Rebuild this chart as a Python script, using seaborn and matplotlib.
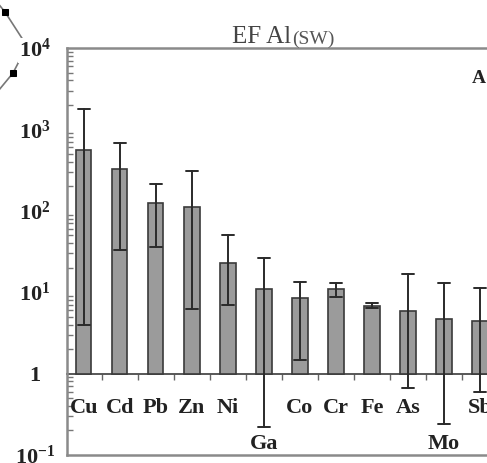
import numpy as np
import pandas as pd
import seaborn as sns
import matplotlib.pyplot as plt

sns.set_style("white")
plt.rcParams['font.family'] = ['Liberation Serif', 'DejaVu Serif']
plt.rcParams['mathtext.fontset'] = 'custom'
plt.rcParams['mathtext.rm'] = 'Liberation Serif'
plt.rcParams['mathtext.bf'] = 'Liberation Serif:bold'

# ------------------------ data ------------------------
elements = ["Cu", "Cd", "Pb", "Zn", "Ni", "Ga", "Co", "Cr", "Fe", "As", "Mo", "Sb"]
ef_value = [560, 330, 126, 110, 23, 11, 8.6, 11, 6.8, 5.9, 4.7, 4.4]
ef_low = [3.9, 33, 36, 6.3, 7.0, 0.22, 1.45, 8.8, 6.4, 0.67, 0.24, 0.6]
ef_high = [1800, 690, 215, 312, 51, 26, 13.5, 12.8, 7.4, 16.5, 13, 11.4]
low_labels = ["Ga", "Mo"]

# fragment of the neighbouring panel (cropped at the left edge)
frag_x = [-8, 5, 27, 13, -6]
frag_y = [-4, 12, 46, 73, 96]

# long form: median -> bar, min/max -> error bar
df = pd.DataFrame({
    "element": elements * 3,
    "value": ef_low + ef_value + ef_high,
})

fig = plt.figure(figsize=(4.87, 4.63), dpi=100)
W, H = 487, 463

# neighbouring panel fragment, drawn underneath
frag = fig.add_axes([0, 0, 1, 1], zorder=-1)
frag.set_xlim(0, W)
frag.set_ylim(H, 0)
frag.axis("off")
sns.lineplot(x=frag_x, y=frag_y, ax=frag, sort=False, color="#777777",
             linewidth=1.2, marker="s", markersize=5, markerfacecolor="black",
             markeredgecolor="black", markevery=[1, 3])

ax = fig.add_axes([67 / W, 8 / H, (516 - 67) / W, (455 - 48) / H])
ax.set_yscale("log")

sns.barplot(data=df, x="element", y="value", order=elements, ax=ax,
            estimator="median", errorbar=lambda v: (v.min(), v.max()),
            width=0.42, color="#9b9b9b", edgecolor="#3a3a3a", linewidth=1.2,
            capsize=0.33, err_kws={"color": "#2a2a2a", "linewidth": 1.4},
            saturation=1)

# bars start at 1 like the original
for p in ax.patches:
    top = p.get_y() + p.get_height()
    p.set_y(1)
    p.set_height(top - 1)

ax.set_ylim(0.1, 1e4)
ax.set_xlim(-0.47, 12.0)
ax.set_xlabel("")
ax.set_ylabel("")

# y axis
yt = [0.1, 1, 10, 100, 1000, 10000]
ylab = [r"$\mathbf{10^{-1}}$", "1", r"$\mathbf{10^{1}}$", r"$\mathbf{10^{2}}$",
        r"$\mathbf{10^{3}}$", r"$\mathbf{10^{4}}$"]
ax.set_yticks(yt)
ax.set_yticklabels(ylab, fontsize=16, fontweight="bold", color="#222222")
for lab in ax.get_yticklabels():
    lab.set_ha("center")
    lab.set_bbox(dict(facecolor="white", edgecolor="none", pad=0.5))
ax.tick_params(axis="y", which="major", direction="in", length=5, width=1,
               color="#777777", pad=23)
ax.tick_params(axis="y", which="minor", direction="in", length=4, width=1,
               color="#777777", left=True)
ax.set_xticks([])

for s in ["left", "top", "bottom"]:
    ax.spines[s].set_color("#8a8a8a")
    ax.spines[s].set_linewidth(1.8)
ax.spines["right"].set_visible(False)

# baseline axis at y = 1 (0.2 of the axes height)
sec = ax.secondary_xaxis(0.2)
sec.set_xticks(np.arange(len(elements)) + 0.5)
sec.set_xticklabels([])
sec.tick_params(direction="out", length=4, width=1, color="#666666")
sec.spines["bottom"].set_color("#4a4a4a")
sec.spines["bottom"].set_linewidth(1.3)

# element labels under the baseline
for i, el in enumerate(elements):
    y = 0.12 if el in low_labels else 0.33
    ax.text(i, y, el, ha="center", va="baseline", fontsize=16,
            fontweight="bold", color="#222222")

# title with subscript
t = ax.text(0.3675, 1.012, "EF Al", transform=ax.transAxes, ha="left",
            va="baseline", fontsize=18, color="#444444")
ax.annotate("(SW)", xy=(1, 0), xycoords=t, xytext=(0.5, 3.0),
            textcoords="offset points", ha="left", va="baseline",
            fontsize=14, color="#555555", annotation_clip=False)

ax.text(0.902, 0.914, "A", transform=ax.transAxes, ha="left", va="baseline",
        fontsize=14, fontweight="bold", color="#222222")

fig.savefig("out.png", dpi=100)
